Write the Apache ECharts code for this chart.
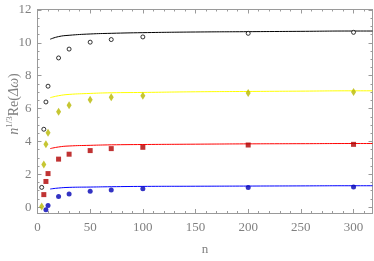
<!DOCTYPE html>
<html><head><meta charset="utf-8">
<script src="https://cdn.jsdelivr.net/npm/echarts@6/dist/echarts.min.js"></script>
<style>html,body{margin:0;padding:0;background:#fff}#c{width:374px;height:261px}</style>
</head><body><div id="c"></div>
<script>
// Data
var nPts = [4, 6, 8, 10, 20, 30, 50, 70, 100, 200, 300];
var blackPts  = [1.2, 4.74, 6.4, 7.36, 9.08, 9.62, 10.04, 10.2, 10.36, 10.58, 10.64];
var yellowPts = [0.04, 2.6, 3.82, 4.52, 5.8, 6.2, 6.54, 6.68, 6.78, 6.94, 7.0];
var redPts    = [null, 0.76, 1.56, 2.04, 2.92, 3.22, 3.44, 3.56, 3.64, 3.78, 3.82];
var bluePts   = [null, null, -0.16, 0.1, 0.64, 0.8, 0.96, 1.04, 1.12, 1.2, 1.22];

var nCurve = [12, 20, 30, 50, 70, 100, 150, 200, 250, 300, 318];
var blackCurve  = [10.22, 10.38, 10.46, 10.54, 10.58, 10.62, 10.66, 10.68, 10.70, 10.72, 10.72];
var yellowCurve = [6.66, 6.78, 6.86, 6.92, 6.96, 6.98, 7.02, 7.04, 7.06, 7.08, 7.08];
var redCurve    = [3.56, 3.66, 3.72, 3.76, 3.79, 3.81, 3.83, 3.85, 3.86, 3.87, 3.87];
var blueCurve   = [1.10, 1.16, 1.20, 1.22, 1.24, 1.26, 1.27, 1.28, 1.29, 1.30, 1.30];

var xTicks = [0, 50, 100, 150, 200, 250, 300];
var xMinor = [10, 20, 30, 40, 60, 70, 80, 90, 110, 120, 130, 140, 160, 170, 180, 190, 210, 220, 230, 240, 260, 270, 280, 290, 310];
var yTicks = [0, 2, 4, 6, 8, 10, 12];
var yMinor = [0.5, 1, 1.5, 2.5, 3, 3.5, 4.5, 5, 5.5, 6.5, 7, 7.5, 8.5, 9, 9.5, 10.5, 11, 11.5];

function pairs(xs, ys) {
  var out = [];
  for (var i = 0; i < xs.length; i++) if (ys[i] !== null) out.push([xs[i], ys[i]]);
  return out;
}

var X0 = 0, X1 = 318, Y0 = -0.36, Y1 = 12.03;
var frame = '#9a9a9a', txt = '#808080', font = '"Liberation Serif", "DejaVu Serif", serif';

function xAx(pos, vals, len, labels) {
  return {
    type: 'value', position: pos, min: X0, max: X1, gridIndex: 0,
    axisLine: {show: true, onZero: false, lineStyle: {color: frame, width: 1}},
    axisTick: {show: true, inside: true, length: len, customValues: vals, lineStyle: {color: frame}},
    axisLabel: labels ? {show: true, customValues: xTicks, color: txt, fontFamily: font, fontSize: 13, margin: 8} : {show: false},
    splitLine: {show: false}
  };
}
function yAx(pos, vals, len, labels) {
  return {
    type: 'value', position: pos, min: Y0, max: Y1, gridIndex: 0,
    axisLine: {show: true, onZero: false, lineStyle: {color: frame, width: 1}},
    axisTick: {show: true, inside: true, length: len, customValues: vals, lineStyle: {color: frame}},
    axisLabel: labels ? {show: true, customValues: yTicks, color: txt, fontFamily: font, fontSize: 13, margin: 6} : {show: false},
    splitLine: {show: false}
  };
}

var xAxes = [xAx('bottom', xTicks, 4, true), xAx('top', xTicks, 4, false), xAx('bottom', xMinor, 2, false), xAx('top', xMinor, 2, false)];
xAxes[0].name = 'n';
xAxes[0].nameLocation = 'middle';
xAxes[0].nameGap = 30;
xAxes[0].nameTextStyle = {color: txt, fontFamily: font, fontSize: 13};

var yAxes = [yAx('left', yTicks, 4, true), yAx('right', yTicks, 4, false), yAx('left', yMinor, 2, false), yAx('right', yMinor, 2, false)];

function curve(xs, ys, color) {
  return {type: 'line', data: pairs(xs, ys), smooth: true, showSymbol: false, symbol: 'none',
    lineStyle: {color: color, width: 1}, silent: true, animation: false, z: 2};
}
function pts(xs, ys, symbol, size, color, empty) {
  return {type: 'scatter', data: pairs(xs, ys), symbol: symbol, symbolSize: size,
    itemStyle: empty ? {color: '#fff', borderColor: color, borderWidth: 1} : {color: color},
    animation: false, z: 3};
}

var chart = echarts.init(document.getElementById('c'), null, {renderer: 'canvas'});
chart.setOption({
  animation: false,
  grid: {left: 37.5, right: 1.5, top: 9.5, bottom: 45, containLabel: false},
  xAxis: xAxes,
  yAxis: yAxes,
  series: [
    curve(nCurve, blackCurve, '#000000'),
    curve(nCurve, yellowCurve, '#ffff00'),
    curve(nCurve, redCurve, '#ff0000'),
    curve(nCurve, blueCurve, '#0000ff'),
    pts(nPts, blackPts, 'circle', 4, '#000000', true),
    pts(nPts, yellowPts, 'diamond', [5, 8], '#b8b800', false),
    pts(nPts, redPts, 'rect', 5, '#b00000', false),
    pts(nPts, bluePts, 'circle', 5, '#0000b4', false)
  ],
  graphic: [{
    type: 'text', x: 13, y: 104, rotation: Math.PI / 2,
    style: {
      text: '{i|n}{s|1/3}{r|Re(}{i|Δω}{r|)}',
      align: 'center', verticalAlign: 'middle',
      fill: txt,
      rich: {
        i: {fontFamily: font, fontStyle: 'italic', fontSize: 14, fill: txt, verticalAlign: 'bottom', lineHeight: 16},
        r: {fontFamily: font, fontSize: 14, fill: txt, verticalAlign: 'bottom', lineHeight: 16},
        s: {fontFamily: font, fontSize: 9, fill: txt, verticalAlign: 'top', lineHeight: 16}
      }
    }
  }]
});
</script></body></html>
